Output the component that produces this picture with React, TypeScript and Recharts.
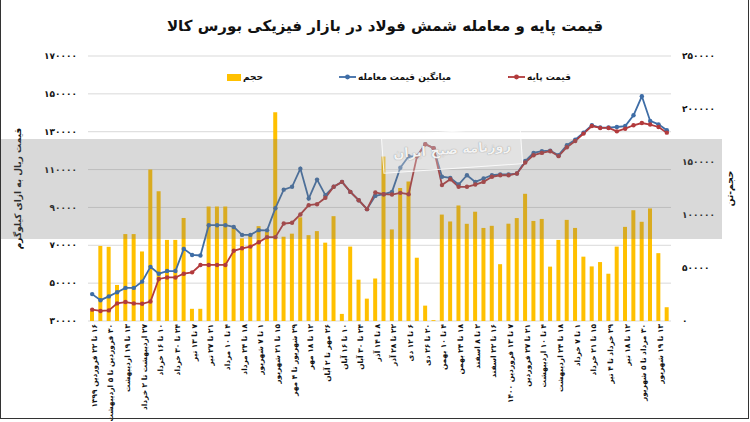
import React from "react";
import { ComposedChart, Bar, Line, XAxis, YAxis, CartesianGrid, Legend } from "recharts";

const weekLabels = [
  "۱۶ تا ۲۲ فروردین ۱۳۹۹",
  "۳۰ فروردین تا ۵ اردیبهشت",
  "۱۳ تا ۱۹ اردیبهشت",
  "۲۷ اردیبهشت تا ۲ خرداد",
  "۱۰ تا ۱۶ خرداد",
  "۲۴ تا ۳۰ خرداد",
  "۷ تا ۱۳ تیر",
  "۲۱ تا ۲۷ تیر",
  "۴ تا ۱۰ مرداد",
  "۱۸ تا ۲۴ مرداد",
  "۱ تا ۷ شهریور",
  "۱۵ تا ۲۱ شهریور",
  "۲۹ شهریور تا ۴ مهر",
  "۱۲ تا ۱۸ مهر",
  "۲۶ مهر تا ۲ آبان",
  "۱۰ تا ۱۶ آبان",
  "۲۴ تا ۳۰ آبان",
  "۸ تا ۱۴ آذر",
  "۲۲ تا ۲۸ آذر",
  "۶ تا ۱۲ دی",
  "۲۰ تا ۲۶ دی",
  "۴ تا ۱۰ بهمن",
  "۱۸ تا ۲۴ بهمن",
  "۲ تا ۸ اسفند",
  "۱۶ تا ۲۲ اسفند",
  "۷ تا ۱۳ فروردین ۱۴۰۰",
  "۲۱ تا ۲۷ فروردین",
  "۴ تا ۱۰ اردیبهشت",
  "۱۸ تا ۲۴ اردیبهشت",
  "۱ تا ۷ خرداد",
  "۱۵ تا ۲۱ خرداد",
  "۲۹ خرداد تا ۴ تیر",
  "۱۲ تا ۱۸ تیر",
  "۳۰ مرداد تا ۵ شهریور",
  "۱۳ تا ۱۹ شهریور",
];

// قیمت پایه
const basePrice = [
  36000, 35300, 35600, 39300, 40000, 39300, 39100, 40300, 52200, 53000,
  53000, 55000, 55700, 59600, 59600, 59600, 59600, 67100, 68400, 69300,
  71600, 74300, 74300, 81500, 81900, 86300, 91200, 91700, 95100, 100900,
  103500, 98200, 93800, 89100, 97900, 97000, 96800, 97700, 97000, 117000,
  123400, 121300, 101800, 104900, 100900, 100900, 102100, 103500, 106200, 107000,
  107000, 107900, 113700, 117600, 118800, 119700, 117100, 121800, 125100, 129000,
  133000, 132000, 132000, 130200, 131600, 133400, 134600, 133800, 132500, 129500,
];

// میانگین قیمت معامله
const avgTradePrice = [
  44200, 41000, 43000, 45200, 47500, 47500, 50800, 58600, 55000, 56400,
  56400, 68100, 64900, 64600, 80600, 80600, 80600, 79700, 75500, 75500,
  78000, 77900, 89600, 99400, 100900, 110500, 94700, 104700, 96500, 100900,
  103500, 98200, 93800, 89100, 96100, 97000, 98200, 111000, 117000, 117000,
  123400, 121300, 106200, 105600, 102100, 107000, 103500, 105300, 107000, 107400,
  107400, 107900, 114500, 118800, 119700, 120000, 117600, 122900, 125800, 129500,
  133400, 132200, 132200, 132500, 133000, 138700, 148700, 135700, 133900, 130800,
];

// حجم
const volume = [
  9500, 70800, 70000, 34000, 82000, 82000, 65600, 143000, 122500, 76500,
  76500, 97200, 11500, 11500, 108000, 108000, 108000, 88000, 78000, 82000,
  89500, 84000, 197000, 79500, 82400, 97800, 81000, 84800, 73900, 98900,
  6700, 70200, 39000, 21100, 40100, 155200, 86400, 125400, 131700, 59700,
  14500, 800, 100400, 93900, 109000, 91700, 103100, 87800, 89800, 53600,
  91800, 97100, 120000, 94400, 96300, 51300, 76500, 95400, 87800, 60700,
  51500, 55600, 44600, 70200, 88800, 104500, 93600, 106200, 64000, 13000,
];

const leftTicks = [30000, 50000, 70000, 90000, 110000, 130000, 150000, 170000];
const rightTicks = [0, 50000, 100000, 150000, 200000, 250000];

const data = volume.map((v, i) => ({
  name: i % 2 === 0 ? weekLabels[i / 2] : "",
  vol: v,
  avg: avgTradePrice[i],
  base: basePrice[i],
}));

const FONT = "'DejaVu Sans', sans-serif";
const toFa = (n: number | string) =>
  String(n).replace(/\d/g, (d) => "۰۱۲۳۴۵۶۷۸۹"[Number(d)]);

const C_BAR = "#FFC000";
const C_AVG = "#3E6DA6";
const C_BASE = "#B23A3C";

const XTick = (props: any) => {
  const { x, y, payload } = props;
  if (!payload || !payload.value) return null;
  return (
    <text
      transform={`translate(${x + 2},${y - 5}) rotate(-90)`}
      textAnchor="end"
      dominantBaseline="central"
      fontSize={7.4}
      fontWeight="bold"
      fontFamily={FONT}
      fill="#111"
    >
      {"\u202B" + payload.value + "\u202C"}
    </text>
  );
};

const legendItems = [
  { key: "vol", label: "حجم", color: C_BAR, type: "rect", left: 227 },
  { key: "avg", label: "میانگین قیمت معامله", color: C_AVG, type: "line", left: 339 },
  { key: "base", label: "قیمت پایه", color: C_BASE, type: "line", left: 508 },
];

const LegendContent = () => (
  <div style={{ position: "relative", width: 750, height: 14 }}>
    {legendItems.map((it) => (
      <div
        key={it.key}
        style={{
          position: "absolute",
          left: it.left,
          top: 0,
          height: 14,
          display: "flex",
          alignItems: "center",
          whiteSpace: "nowrap",
        }}
      >
        {it.type === "rect" ? (
          <span style={{ display: "inline-block", width: 14, height: 7, background: it.color }} />
        ) : (
          <svg width={17} height={8} style={{ display: "block" }}>
            <line x1={0} y1={4} x2={17} y2={4} stroke={it.color} strokeWidth={1.8} />
            <circle cx={8.5} cy={4} r={2.4} fill={it.color} />
          </svg>
        )}
        <span
          dir="rtl"
          style={{ fontFamily: FONT, fontSize: 9, fontWeight: "bold", color: "#111", marginLeft: 2 }}
        >
          {it.label}
        </span>
      </div>
    ))}
  </div>
);

export default function App() {
  return (
    <div
      style={{
        position: "absolute",
        left: 0,
        top: 0,
        width: 750,
        height: 422,
        background: "#fff",
        overflow: "hidden",
      }}
    >
      <div
        dir="rtl"
        style={{
          position: "absolute",
          left: 0,
          top: 17,
          width: 770,
          textAlign: "center",
          fontFamily: FONT,
          fontWeight: "bold",
          fontSize: 15,
          color: "#111",
        }}
      >
        قیمت پایه و معامله شمش فولاد در بازار فیزیکی بورس کالا
      </div>
      <ComposedChart
        width={750}
        height={422}
        data={data}
        margin={{ top: 56, right: 0, bottom: 0, left: 0 }}
        barCategoryGap={0}
      >
        <CartesianGrid vertical={false} stroke="#D9D9D9" strokeWidth={1} yAxisId="left" />
        <XAxis
          dataKey="name"
          interval={0}
          height={101}
          axisLine={false}
          tickLine={false}
          tick={<XTick />}
        />
        <YAxis
          yAxisId="left"
          orientation="left"
          width={88}
          domain={[30000, 170000]}
          ticks={leftTicks}
          axisLine={false}
          tickLine={false}
          tickMargin={5}
          tickFormatter={toFa}
          tick={{ fontSize: 9, fontWeight: "bold", fill: "#111", fontFamily: FONT }}
          label={{
            value: "قیمت ریال به ازای کیلوگرم",
            angle: -90,
            position: "insideLeft",
            offset: 18,
            style: { fontSize: 9, fontWeight: "bold", fill: "#111", fontFamily: FONT, textAnchor: "middle" },
          }}
        />
        <YAxis
          yAxisId="right"
          orientation="right"
          width={79}
          domain={[0, 250000]}
          ticks={rightTicks}
          axisLine={false}
          tickLine={false}
          tickMargin={5}
          tickFormatter={toFa}
          tick={{ fontSize: 9, fontWeight: "bold", fill: "#111", fontFamily: FONT, textAnchor: "start" }}
          label={{
            value: "حجم-تن",
            angle: -90,
            position: "insideRight",
            offset: 20,
            style: { fontSize: 9, fontWeight: "bold", fill: "#111", fontFamily: FONT, textAnchor: "middle" },
          }}
        />
        <Legend
          layout="horizontal"
          verticalAlign="middle"
          align="center"
          wrapperStyle={{ top: 70, left: 0, width: 750, height: 14 }}
          content={<LegendContent />}
        />
        <Bar yAxisId="right" dataKey="vol" fill={C_BAR} barSize={4} isAnimationActive={false} />
        <Line
          yAxisId="left"
          dataKey="avg"
          stroke={C_AVG}
          strokeWidth={1.8}
          dot={{ r: 2.2, fill: C_AVG, stroke: C_AVG, strokeWidth: 0 }}
          activeDot={false}
          isAnimationActive={false}
        />
        <Line
          yAxisId="left"
          dataKey="base"
          stroke={C_BASE}
          strokeWidth={1.8}
          dot={{ r: 2.2, fill: C_BASE, stroke: C_BASE, strokeWidth: 0 }}
          activeDot={false}
          isAnimationActive={false}
        />
      </ComposedChart>
      {/* watermark band */}
      <div
        style={{
          position: "absolute",
          left: 0,
          top: 139,
          width: 722,
          height: 100,
          background: "rgba(120,120,120,0.28)",
          pointerEvents: "none",
        }}
      />
      <div
        dir="rtl"
        style={{
          position: "absolute",
          left: 382,
          top: 131,
          width: 138,
          height: 36,
          border: "1.5px solid rgba(255,255,255,0.8)",
          background: "rgba(255,255,255,0.25)",
          transform: "rotate(-4deg)",
          color: "rgba(255,255,255,0.92)",
          fontFamily: FONT,
          fontSize: 13,
          fontWeight: "bold",
          textAlign: "center",
          lineHeight: "36px",
          whiteSpace: "nowrap",
          textShadow: "0 0 1px rgba(110,110,110,0.9)",
          pointerEvents: "none",
        }}
      >
        روزنامه صبح ایران
      </div>
      {/* frame */}
      <div
        style={{
          position: "absolute",
          left: 0,
          top: 0,
          width: 747,
          height: 418,
          border: "1.5px solid #333",
          borderTop: "none",
          pointerEvents: "none",
        }}
      />
    </div>
  );
}
